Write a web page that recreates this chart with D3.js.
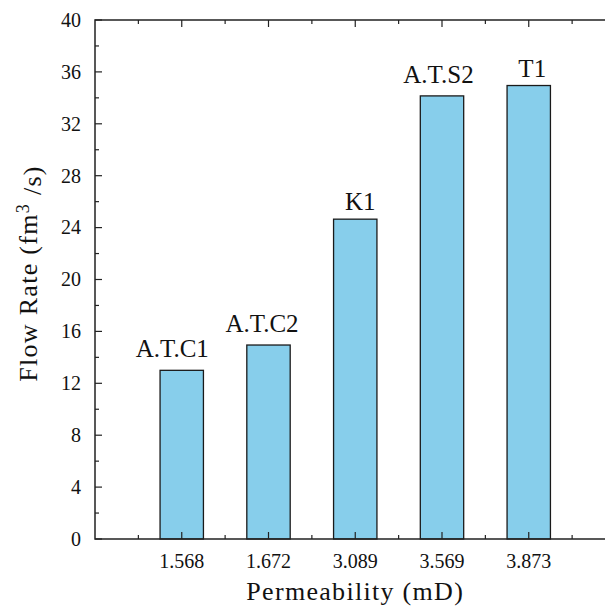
<!DOCTYPE html>
<html>
<head>
<meta charset="utf-8">
<script src="https://cdn.jsdelivr.net/npm/d3@7"></script>
<style>
  html, body { margin: 0; padding: 0; background: #fff; }
  svg { display: block; }
  svg text { font-family: 'Liberation Serif', 'Times New Roman', serif; }
</style>
</head>
<body>
<svg id="chart" width="605" height="608"></svg>
<script>
// Samples, their permeability (mD) and measured flow rate (fm^3/s)
const samples      = ["A.T.C1", "A.T.C2", "K1", "A.T.S2", "T1"];
const permeability = ["1.568", "1.672", "3.089", "3.569", "3.873"];
const flowRate     = [13.0, 14.95, 24.65, 34.15, 34.95];
const yTicks       = [0, 4, 8, 12, 16, 20, 24, 28, 32, 36, 40];

(function draw() {
  const serif = "'Liberation Serif'";
  const svg = d3.select("#chart");
  const label = sel => sel.style("font-family", serif).attr("fill", "#111");
  const plotLeft = 95, plotTop = 20, plotBottom = 539;
  const slot = 86.75;                           // distance between category positions
  const plotRight = plotLeft + 6 * slot;        // frame continues past the page edge

  const x = d3.scaleLinear().domain([0, 6]).range([plotLeft, plotRight]);
  const y = d3.scaleLinear().domain([0, 40]).range([plotBottom, plotTop]);
  const barW = x(0.5) - x(0);

  // hand-placed annotation nudges (px): horizontal shift and gap above the bar
  const nudgeX = [-9.5, -6.5, 5, -3.5, 3.5];
  const gapY   = [13, 13, 9, 13, 9];

  const data = samples.map((s, i) => ({ name: s, perm: permeability[i], value: flowRate[i], pos: i + 1, i }));

  // bars
  svg.append("g").selectAll("rect").data(data).join("rect")
    .attr("x", d => x(d.pos) - barW / 2)
    .attr("y", d => y(d.value))
    .attr("width", barW)
    .attr("height", d => y(0) - y(d.value))
    .attr("fill", "#87ceeb")
    .attr("stroke", "#1a1a1a")
    .attr("stroke-width", 1.3);

  // sample names above bars
  svg.append("g").selectAll("text").data(data).join("text")
    .call(label)
    .attr("x", d => x(d.pos) + nudgeX[d.i])
    .attr("y", d => y(d.value) - gapY[d.i])
    .attr("text-anchor", "middle")
    .style("font-size", "25px")
    .text(d => d.name);

  // frame and ticks
  const axisColor = "#222";
  svg.append("path")
    .attr("d", `M${plotRight},${plotTop}H${plotLeft}V${plotBottom}H${plotRight}`)
    .attr("stroke", axisColor).attr("stroke-width", 1.5).attr("fill", "none");

  const majorX = d3.range(1, 6);
  const minorX = d3.range(0.5, 6, 1);
  const ticks = svg.append("g").attr("stroke", axisColor).attr("stroke-width", 1.2);
  majorX.forEach(v => {
    ticks.append("line").attr("x1", x(v)).attr("x2", x(v)).attr("y1", plotBottom).attr("y2", plotBottom - 7);
    ticks.append("line").attr("x1", x(v)).attr("x2", x(v)).attr("y1", plotTop).attr("y2", plotTop + 7);
  });
  minorX.forEach(v => {
    ticks.append("line").attr("x1", x(v)).attr("x2", x(v)).attr("y1", plotBottom).attr("y2", plotBottom - 4);
    ticks.append("line").attr("x1", x(v)).attr("x2", x(v)).attr("y1", plotTop).attr("y2", plotTop + 4);
  });
  yTicks.forEach(v => {
    ticks.append("line").attr("x1", plotLeft).attr("x2", plotLeft + 7).attr("y1", y(v)).attr("y2", y(v));
  });
  d3.range(2, 40, 4).forEach(v => {
    ticks.append("line").attr("x1", plotLeft).attr("x2", plotLeft + 4).attr("y1", y(v)).attr("y2", y(v));
  });

  // tick labels
  svg.append("g").selectAll("text").data(yTicks).join("text")
    .call(label)
    .attr("x", plotLeft - 14)
    .attr("y", d => y(d))
    .attr("dy", "0.34em")
    .attr("text-anchor", "end")
    .style("font-size", "20px")
    .text(d => d);

  svg.append("g").selectAll("text").data(data).join("text")
    .call(label)
    .attr("x", d => x(d.pos))
    .attr("y", 568)
    .attr("text-anchor", "middle")
    .style("font-size", "20px")
    .text(d => d.perm);

  // axis titles
  svg.append("text")
    .call(label)
    .attr("x", x(3))
    .attr("y", 600)
    .attr("text-anchor", "middle")
    .style("font-size", "26px")
    .style("letter-spacing", "1.3px")
    .text("Permeability (mD)");

  const yt = svg.append("text")
    .call(label)
    .attr("transform", `translate(37,${(plotTop + plotBottom) / 2 - 6}) rotate(-90)`)
    .attr("text-anchor", "middle")
    .style("font-size", "26px")
    .style("letter-spacing", "1.3px");
  yt.append("tspan").text("Flow Rate (fm");
  yt.append("tspan").attr("dy", "-0.45em").style("font-size", "18px").text("3");
  yt.append("tspan").attr("dy", "0.45em").text(" /s)");
})();
</script>
</body>
</html>
